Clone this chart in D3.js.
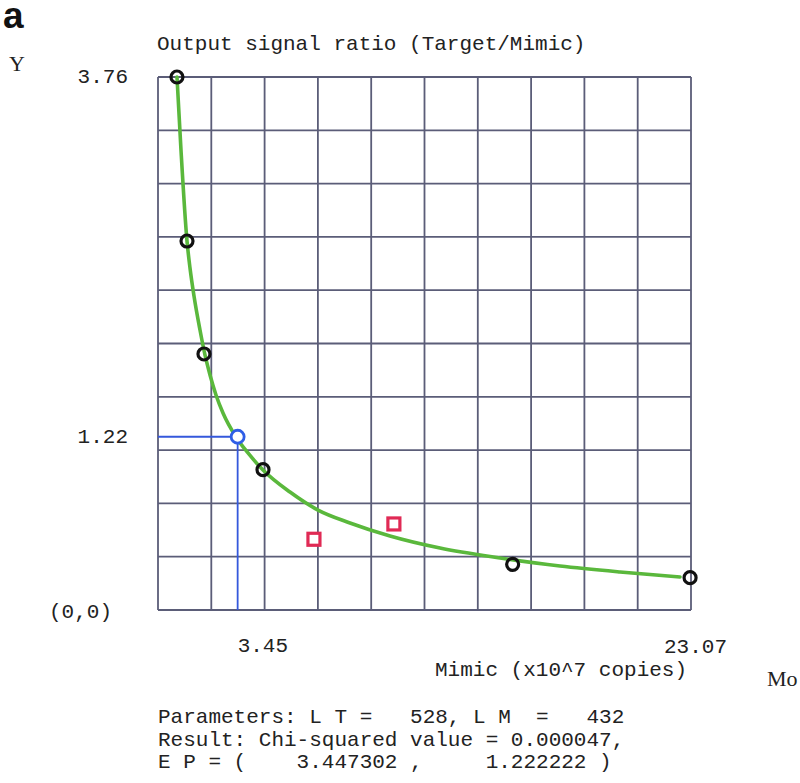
<!DOCTYPE html>
<html>
<head>
<meta charset="utf-8">
<script src="https://cdn.jsdelivr.net/npm/d3@7"></script>
<style>
  body { margin: 0; background: #fff; }
  text { font-family: "Liberation Mono", "DejaVu Sans Mono", monospace; font-size: 21px; fill: #222; }
</style>
</head>
<body>
<script>
// measured points (x in 10^7 copies, y = target/mimic ratio)
const xMax = 23.07, yMax = 3.76;
const obsX = [0.82, 1.255, 1.99, 4.545, 15.35, 23.03];
const obsY = [3.76, 2.603, 1.806, 0.99, 0.322, 0.228];
const outX = [6.75, 10.21];
const outY = [0.499, 0.607];
const ep = [3.447302, 1.222222];

// fitted curve
const fitX = [0.822, 0.995, 1.255, 1.385, 1.558, 1.818, 2.034, 2.251, 2.51, 2.813, 3.376, 3.895, 4.545, 5.713, 6.925, 8.31, 10.042, 12.206, 14.803, 17.4, 19.997, 22.594];
const fitY = [3.76, 3.245, 2.603, 2.413, 2.215, 1.975, 1.799, 1.658, 1.517, 1.39, 1.221, 1.108, 0.988, 0.832, 0.705, 0.614, 0.522, 0.437, 0.367, 0.31, 0.268, 0.233];

const xTickLabels = ["3.45", "23.07"];
const yTickLabels = ["3.76", "1.22", "(0,0)"];
const bottomLines = [
  "Parameters: L T =   528, L M  =   432",
  "Result: Chi-squared value = 0.000047,",
  "E P = (    3.447302 ,     1.222222 )"
];

const width = 800, height = 783;

const svg = d3.select("body").append("svg")
    .attr("width", width)
    .attr("height", height);

const x = d3.scaleLinear().domain([0, xMax]).range([158, 691]);
const y = d3.scaleLinear().domain([0, yMax]).range([610, 77]);

// grid: 10 x 10 cells
const grid = svg.append("g")
    .attr("stroke", "#5b5d78")
    .attr("stroke-width", 1.8)
    .attr("fill", "none");

d3.range(11).forEach(i => {
  grid.append("line")
      .attr("x1", x(i * xMax / 10)).attr("x2", x(i * xMax / 10))
      .attr("y1", y(0)).attr("y2", y(yMax));
  grid.append("line")
      .attr("x1", x(0)).attr("x2", x(xMax))
      .attr("y1", y(i * yMax / 10)).attr("y2", y(i * yMax / 10));
});

// guide lines to the equivalence point
svg.append("path")
    .attr("d", "M" + x(0) + "," + y(ep[1]) + "H" + x(ep[0]) + "V" + y(0))
    .attr("stroke", "#3558dc")
    .attr("stroke-width", 1.8)
    .attr("fill", "none");

const line = d3.line()
    .x(d => x(d[0]))
    .y(d => y(d[1]))
    .curve(d3.curveMonotoneX);

svg.append("path")
    .datum(d3.zip(fitX, fitY))
    .attr("d", line)
    .attr("stroke", "#5ab83c")
    .attr("stroke-width", 3.6)
    .attr("stroke-linecap", "round")
    .attr("fill", "none");

svg.selectAll(".obs")
    .data(d3.zip(obsX, obsY))
  .enter().append("circle")
    .attr("class", "obs")
    .attr("cx", d => x(d[0]))
    .attr("cy", d => y(d[1]))
    .attr("r", 6)
    .attr("fill", "none")
    .attr("stroke", "#111")
    .attr("stroke-width", 3.2);

svg.selectAll(".out")
    .data(d3.zip(outX, outY))
  .enter().append("rect")
    .attr("class", "out")
    .attr("x", d => x(d[0]) - 6)
    .attr("y", d => y(d[1]) - 6)
    .attr("width", 12)
    .attr("height", 12)
    .attr("fill", "#fff")
    .attr("stroke", "#e02a55")
    .attr("stroke-width", 3.2);

svg.append("circle")
    .attr("cx", x(ep[0]))
    .attr("cy", y(ep[1]))
    .attr("r", 6.5)
    .attr("fill", "#fff")
    .attr("stroke", "#2f5ee6")
    .attr("stroke-width", 2.8);

// labels
svg.append("text")
    .attr("x", 3).attr("y", 28)
    .style("font-family", "'Liberation Sans', Arial, sans-serif")
    .style("font-weight", "bold")
    .style("font-size", "37px")
    .style("fill", "#111")
    .text("a");

svg.append("text").attr("x", 9).attr("y", 71)
    .style("font-family", "'Liberation Serif', 'Times New Roman', serif")
    .style("font-size", "22px")
    .text("Y");
svg.append("text").attr("x", 157).attr("y", 50).text("Output signal ratio (Target/Mimic)");

svg.append("text").attr("x", 128).attr("y", y(yMax) + 6).attr("text-anchor", "end").text(yTickLabels[0]);
svg.append("text").attr("x", 128).attr("y", y(ep[1]) + 6).attr("text-anchor", "end").text(yTickLabels[1]);
svg.append("text").attr("x", 112).attr("y", y(0) + 8).attr("text-anchor", "end").text(yTickLabels[2]);

svg.append("text").attr("x", x(ep[0])).attr("y", 652).text(xTickLabels[0]);
svg.append("text").attr("x", x(xMax) - 27).attr("y", 653).text(xTickLabels[1]);

svg.append("text").attr("x", 435).attr("y", 676).text("Mimic (x10^7 copies)");
svg.append("text").attr("x", 767).attr("y", 686)
    .style("font-family", "'Liberation Serif', 'Times New Roman', serif")
    .style("font-size", "22px")
    .text("Mo");

svg.selectAll(".res")
    .data(bottomLines)
  .enter().append("text")
    .attr("class", "res")
    .attr("x", 158)
    .attr("y", (d, i) => 723 + i * 22.5)
    .attr("xml:space", "preserve")
    .style("white-space", "pre")
    .text(d => d);
</script>
</body>
</html>
